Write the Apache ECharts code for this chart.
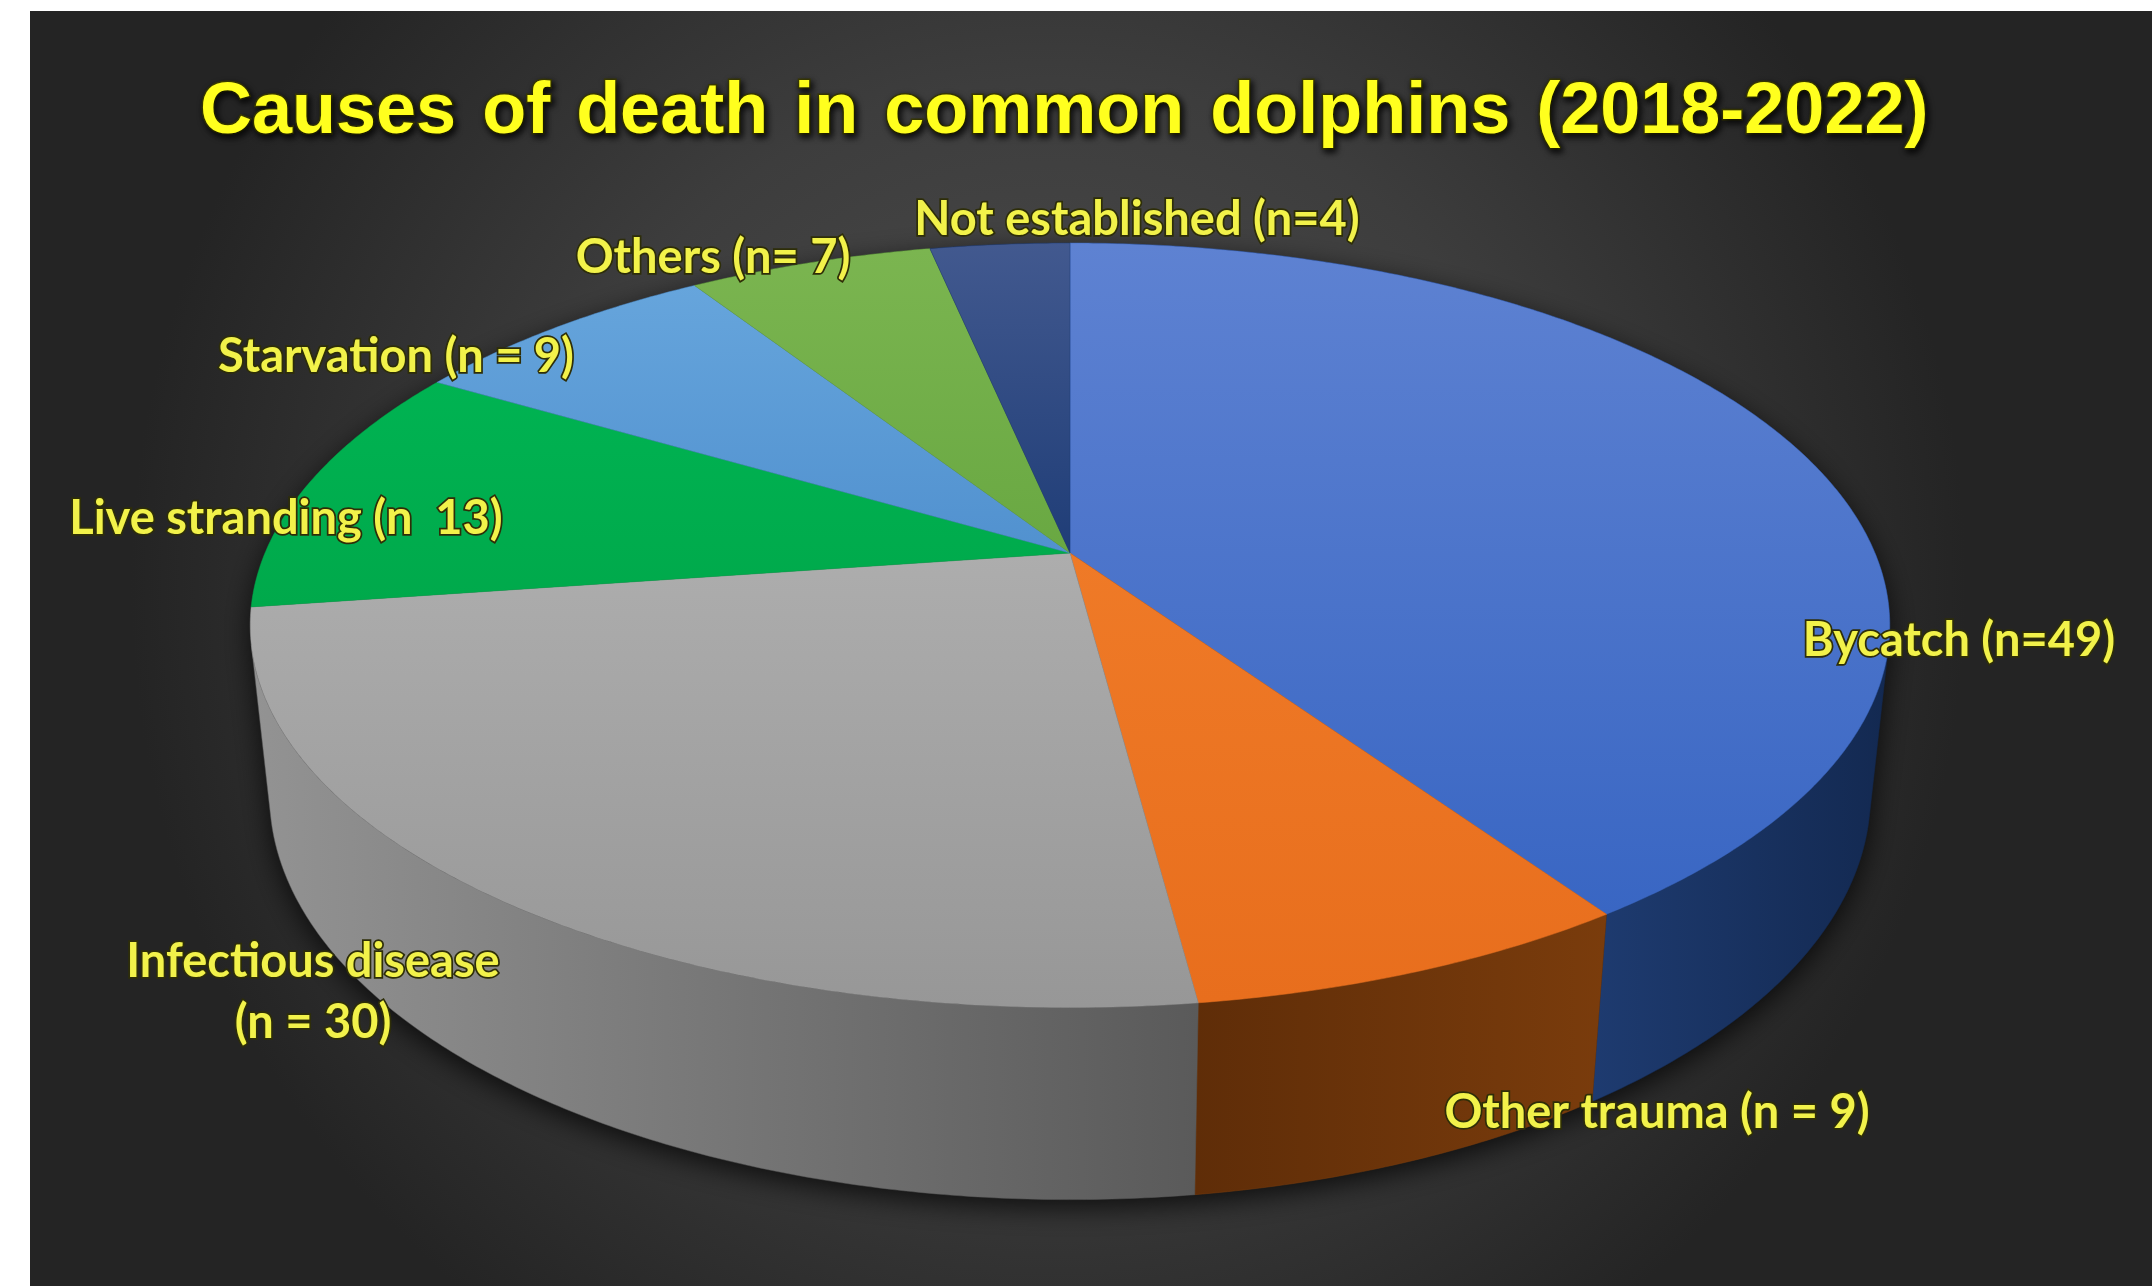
<!DOCTYPE html>
<html>
<head>
<meta charset="utf-8">
<script src="https://cdn.jsdelivr.net/npm/echarts@6/dist/echarts.min.js"></script>
<style>
html,body{margin:0;padding:0;background:#ffffff;}
#c{width:2152px;height:1286px;}
</style>
</head>
<body>
<div id="c"></div>
<script>
// ---- data ----
const categories = ['Bycatch', 'Other trauma', 'Infectious disease', 'Live stranding', 'Starvation', 'Others', 'Not established'];
const counts = [49, 9, 30, 13, 9, 7, 4];
const labelTexts = ['Bycatch (n=49)', 'Other trauma (n = 9)', 'Infectious disease\n(n = 30)', 'Live stranding (n  13)', 'Starvation (n = 9)', 'Others (n= 7)', 'Not established (n=4)'];
const titleText = 'Causes \u200Aof \u200Adeath \u200Ain \u200Acommon \u200Adolphins \u200A(2018-2022)';

// ---- styles / layout ----
const topColors = [
  ['#5e82d2', '#3966c3'],
  ['#ef7a27', '#e86e1d'],
  ['#adadad', '#979797'],
  ['#00b352', '#00a94b'],
  ['#66a5dc', '#5191cf'],
  ['#7bb550', '#69a842'],
  ['#42598f', '#1f3d77']
];
const wallColors = [
  ['#1e3b70', '#132951'],
  ['#5f2d08', '#7a3c0c'],
  ['#939393', '#5a5a5a'],
  ['#00602c', '#00602c'],
  ['#2f5f8f', '#2f5f8f'],
  ['#44702a', '#44702a'],
  ['#142a55', '#142a55']
];
const labelPos = [[1959, 641], [1657, 1113], [313, 992], [286, 519], [396, 357], [713, 258], [1137, 220]];
const PIE = { cx: 1070, cy: 553, scale: 805, tilt: 27.25, persp: 0.2126, depth: 0.2387 };

const S = Math.sin(PIE.tilt * Math.PI / 180), C = Math.cos(PIE.tilt * Math.PI / 180);
function project(alphaDeg, yn) {
  const a = alphaDeg * Math.PI / 180;
  const xn = Math.sin(a), zn = -Math.cos(a);
  const d = 1 - PIE.persp * (yn * S + zn * C);
  return [PIE.cx + PIE.scale * xn / d, PIE.cy - PIE.scale * (yn * C - zn * S) / d];
}
function arc(a0, a1, yn) {
  const pts = [];
  const n = Math.max(2, Math.ceil(Math.abs(a1 - a0) / 0.5));
  for (let k = 0; k <= n; k++) pts.push(project(a0 + (a1 - a0) * k / n, yn));
  return pts;
}
const total = counts.reduce((a, b) => a + b, 0);
const starts = [], ends = [];
let acc = 0;
counts.forEach(v => { starts.push(acc / total * 360); acc += v; ends.push(acc / total * 360); });
const wallMin = Math.acos(-PIE.persp / C) * 180 / Math.PI;
const wallMax = 360 - wallMin;

const chart = echarts.init(document.getElementById('c'), null, { renderer: 'canvas', width: 2152, height: 1286 });

const option = {
  backgroundColor: '#ffffff',
  animation: false,
  title: {
    text: titleText,
    left: 200,
    top: 70,
    padding: 0,
    textStyle: {
      fontFamily: 'Liberation Sans, Arial, sans-serif',
      fontWeight: 'bold',
      fontSize: 72,
      lineHeight: 86,
      color: '#ffff1e',
      textBorderColor: '#3a3a00',
      textBorderWidth: 3,
      textShadowColor: 'rgba(0,0,0,0.8)',
      textShadowBlur: 6,
      textShadowOffsetX: 2,
      textShadowOffsetY: 3
    }
  },
  graphic: [{
    type: 'rect',
    z: -10,
    shape: { x: 30, y: 11, width: 2122, height: 1275 },
    style: {
      fill: new echarts.graphic.RadialGradient(0.48, 0.45, 0.72, [
        { offset: 0, color: '#4f4f4f' },
        { offset: 0.55, color: '#3d3d3d' },
        { offset: 1, color: '#242424' }
      ])
    }
  }],
  series: [{
    type: 'custom',
    coordinateSystem: 'none',
    data: counts.map((v, i) => ({ name: categories[i], value: v })),
    renderItem: function (params, api) {
      const i = params.dataIndex;
      const a0 = starts[i], a1 = ends[i];
      const children = [];
      if (i === 0) {
        const sil = arc(wallMax, wallMin + 360, 0).concat(arc(wallMin, wallMax, -PIE.depth));
        children.push({
          type: 'polygon', z2: 0,
          shape: { points: sil },
          style: { fill: '#1a1a1a', shadowBlur: 28, shadowColor: 'rgba(0,0,0,0.75)', shadowOffsetY: 8 }
        });
      }
      const w0 = Math.max(a0, wallMin), w1 = Math.min(a1, wallMax);
      if (w1 > w0) {
        const wall = arc(w0, w1, 0).concat(arc(w1, w0, -PIE.depth));
        children.push({
          type: 'polygon', z2: 1,
          shape: { points: wall },
          style: {
            fill: new echarts.graphic.LinearGradient(0, 0, 1, 0, [
              { offset: 0, color: wallColors[i][0] },
              { offset: 1, color: wallColors[i][1] }
            ]),
            stroke: wallColors[i][1], lineWidth: 0.5
          }
        });
      }
      const top = [[PIE.cx, PIE.cy]].concat(arc(a0, a1, 0));
      children.push({
        type: 'polygon', z2: 10,
        shape: { points: top },
        style: {
          fill: new echarts.graphic.LinearGradient(0, 0, 0, 1, [
            { offset: 0, color: topColors[i][0] },
            { offset: 1, color: topColors[i][1] }
          ]),
          stroke: topColors[i][1], lineWidth: 0.5
        }
      });
      children.push({
        type: 'text', z2: 30,
        x: labelPos[i][0], y: labelPos[i][1],
        style: {
          text: labelTexts[i],
          fontFamily: 'Lato, Carlito, sans-serif',
          fontWeight: 'bold',
          fontSize: 47,
          lineHeight: 61,
          align: 'center',
          verticalAlign: 'middle',
          fill: '#f2f24a',
          stroke: '#2e2e08',
          lineWidth: 3.5,
          shadowColor: 'rgba(0,0,0,0.7)',
          shadowBlur: 5
        }
      });
      return { type: 'group', children: children };
    }
  }]
};
chart.setOption(option);
</script>
</body>
</html>
